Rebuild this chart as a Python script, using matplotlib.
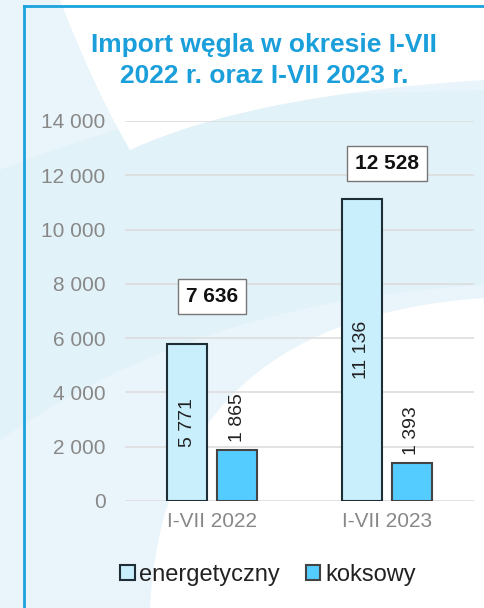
import matplotlib
matplotlib.use("Agg")
import matplotlib.pyplot as plt
from matplotlib.patches import Polygon, Patch
from matplotlib.lines import Line2D
import numpy as np

categories = ["I-VII 2022", "I-VII 2023"]
energetyczny = [5771, 11136]
koksowy = [1865, 1393]
totals = [7636, 12528]
series_names = ["energetyczny", "koksowy"]
title = "Import węgla w okresie I-VII\n2022 r. oraz I-VII 2023 r."

def fmt(v):
    return f"{v:,}".replace(",", " ")

plt.rcParams['font.family'] = ['Liberation Sans', 'DejaVu Sans']

W, H = 484, 608
fig = plt.figure(figsize=(W / 100, H / 100), dpi=100)
fig.patch.set_facecolor('#EAF5FB')

def P(pts):
    return [(x / W, 1 - y / H) for x, y in pts]

def curve(p0, p1, p2, n=40):
    t = np.linspace(0, 1, n)[:, None]
    p0, p1, p2 = map(np.array, (p0, p1, p2))
    return list((1 - t) ** 2 * p0 + 2 * (1 - t) * t * p1 + t ** 2 * p2)

def bg(pts, color):
    fig.patches.append(Polygon(P(pts), closed=True, transform=fig.transFigure,
                               facecolor=color, edgecolor='none', zorder=-5))

# background decoration
band = curve((0, 170), (150, 110), (300, 95)) + [(484, 90), (484, 285)] + curve((484, 285), (200, 300), (0, 440))
bg(band, '#E2F2F9')
top_white = [(60, 0), (484, 0), (484, 80)] + curve((484, 80), (250, 95), (130, 150)) + curve((130, 150), (95, 90), (60, 0))
bg(top_white, 'white')
bot_white = curve((150, 608), (165, 320), (484, 298)) + [(484, 608)]
bg(bot_white, 'white')

# frame
fig.add_artist(Line2D([24 / W, 24 / W], [0, 1 - 6 / H], transform=fig.transFigure, color='#1AA3DC', lw=2, zorder=1))
fig.add_artist(Line2D([24 / W, 1], [1 - 6 / H, 1 - 6 / H], transform=fig.transFigure, color='#1AA3DC', lw=2, zorder=1))

ax = fig.add_axes([125 / W, 1 - 501 / H, (474 - 125) / W, (501 - 121) / H])
ax.set_zorder(2)
ax.set_facecolor('none')
ax.set_xlim(-0.5, 1.5)
ax.set_ylim(0, 14000)
ax.set_yticks(np.arange(0, 14001, 2000))
ax.set_yticklabels([fmt(v) for v in np.arange(0, 14001, 2000)])
ax.grid(axis='y', color='#DDDDDD', lw=1.2)
ax.set_axisbelow(True)
for s in ax.spines.values():
    s.set_visible(False)
ax.tick_params(axis='both', length=0, labelsize=15, labelcolor='#888888')
ax.tick_params(axis='y', pad=14)
ax.tick_params(axis='x', pad=8)

x = np.arange(len(categories))
bw = 0.229
off = 0.143
ax.bar(x - off, energetyczny, bw, color='#C9EEFC', edgecolor='#1E2E36', lw=1.5, zorder=3)
ax.bar(x + off, koksowy, bw, color='#55CCFF', edgecolor='#444444', lw=1.5, zorder=3)
ax.set_xticks(x)
ax.set_xticklabels(categories)

for xi, v in zip(x, energetyczny):
    ax.text(xi - off, v / 2, fmt(v), rotation=90, ha='center', va='center', fontsize=14, color='#222222', zorder=4)
for xi, v in zip(x, koksowy):
    ax.annotate(fmt(v), (xi + off, v), xytext=(0, 6), textcoords='offset points', rotation=90,
                ha='center', va='bottom', fontsize=14, color='#222222', zorder=4)
for xi, v in zip(x, totals):
    ax.text(xi, v - 100, fmt(v), ha='center', va='center', fontsize=15, fontweight='bold', color='#111111', zorder=4,
            bbox=dict(boxstyle='square,pad=0.38', facecolor='white', edgecolor='#777777', lw=1))

fig.text(0.5 + 22 / W, 1 - 60.5 / H, title, ha='center', va='center', fontsize=19, fontweight='bold',
         color='#1A9FDB', linespacing=1.36)

handles = [Patch(facecolor='#C9EEFC', edgecolor='#1E2E36', lw=1.5, label=series_names[0]),
           Patch(facecolor='#55CCFF', edgecolor='#444444', lw=1.5, label=series_names[1])]
fig.legend(handles=handles, loc='center', bbox_to_anchor=(268 / W, 1 - 575 / H), ncol=2, frameon=False,
           fontsize=17, handlelength=0.6, handleheight=0.6, handletextpad=0.2, columnspacing=1.1,
           labelcolor='#222222')

fig.savefig('out.png', dpi=100)
